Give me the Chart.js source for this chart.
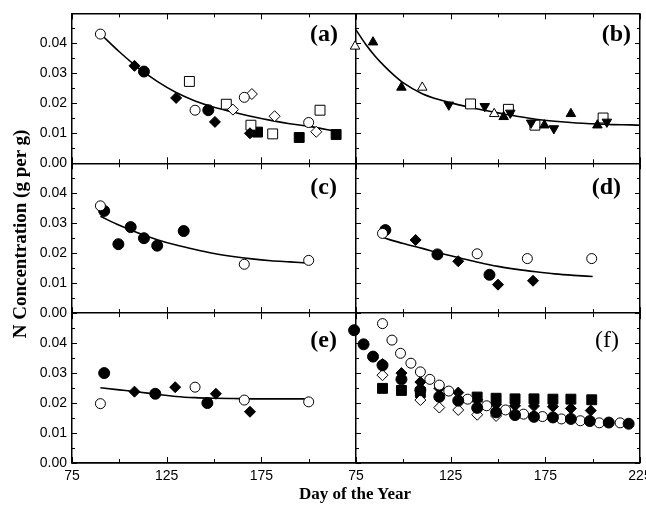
<!DOCTYPE html>
<html>
<head>
<meta charset="utf-8">
<title>N Concentration by Day of the Year</title>
<script src="https://cdn.jsdelivr.net/npm/chart.js@4.4.1/dist/chart.umd.min.js"></script>
<style>
  html, body { margin: 0; padding: 0; overflow: hidden; background: #fff; }
  #wrap { position: relative; width: 646px; height: 510px; overflow: hidden; }
  #chart { position: absolute; left: 0; top: 0; }
  .axis-title {
    position: absolute;
    font-family: "Liberation Serif", "Times New Roman", serif;
    font-weight: bold;
    font-size: 17px;
    line-height: 20px;
    color: #000;
    white-space: nowrap;
    text-align: center;
  }
  #xTitle { left: 255px; width: 200px; top: 484px; }
  #yTitle { left: -120px; width: 280px; top: 224px; font-size: 19px; transform: rotate(-90deg); }
  .panel-label {
    position: absolute;
    font-family: "Liberation Serif", "Times New Roman", serif;
    font-weight: bold;
    font-size: 24px;
    line-height: 24px;
    color: #000;
    white-space: nowrap;
  }
</style>
</head>
<body>
<div id="wrap">
  <canvas id="chart" width="660" height="510"></canvas>
  <div class="axis-title" id="xTitle">Day of the Year</div>
  <div class="axis-title" id="yTitle">N Concentration (g per g)</div>
  <div class="panel-label" style="right:308px; top:21px;">(a)</div>
  <div class="panel-label" style="right:15px; top:21px;">(b)</div>
  <div class="panel-label" style="right:309px; top:174px;">(c)</div>
  <div class="panel-label" style="right:25px; top:174px;">(d)</div>
  <div class="panel-label" style="right:309px; top:327px;">(e)</div>
  <div class="panel-label" style="right:27px; top:327px; font-weight:normal;">(f)</div>
</div>

<script>
// ======================================================
// AXES
// ======================================================

const DAY_MIN = 75;
const DAY_MAX = 225;
const DAY_MAJOR = [75, 125, 175, 225];
const DAY_MINOR = [100, 150, 200];

const N_MIN = 0;
const N_MAX = 0.05;
const N_MAJOR = [0, 0.01, 0.02, 0.03, 0.04, 0.05];
const N_MINOR = [0.005, 0.015, 0.025, 0.035, 0.045];

// ======================================================
// DATA  (day of year, g N per g)
// ======================================================

// (a)
const aOpenCircleDay = [90, 140, 166, 200];
const aOpenCircleN = [0.0431, 0.0177, 0.022, 0.0136];
const aFilledCircleDay = [113, 147];
const aFilledCircleN = [0.0306, 0.0177];
const aFilledDiamondDay = [108, 130, 150.5, 169];
const aFilledDiamondN = [0.0325, 0.0218, 0.0138, 0.01];
const aOpenDiamondDay = [160, 170, 182, 204];
const aOpenDiamondN = [0.0179, 0.0231, 0.0157, 0.0105];
const aOpenSquareDay = [137, 156.5, 169.5, 181, 206];
const aOpenSquareN = [0.0273, 0.0197, 0.0127, 0.0098, 0.0177];
const aFilledSquareDay = [173, 195, 214.5];
const aFilledSquareN = [0.0104, 0.0086, 0.0096];
const aFitDay = [90, 100, 110, 120, 130, 140, 150, 160, 170, 180, 190, 200, 210, 215];
const aFitN = [0.0432, 0.0372, 0.0318, 0.0273, 0.0236, 0.0208, 0.0187, 0.0171, 0.0156, 0.0143, 0.0132, 0.0123, 0.0112, 0.0106];

// (b)
const bOpenTriDay = [74.5, 110, 148];
const bOpenTriN = [0.039, 0.0253, 0.0165];
const bFilledTriDay = [84, 99, 153, 174.5, 188.5, 202.5];
const bFilledTriN = [0.0404, 0.0253, 0.0155, 0.0127, 0.0165, 0.0127];
const bDownTriDay = [124, 143, 156.5, 167.5, 179.5, 207.5];
const bDownTriN = [0.0195, 0.019, 0.0168, 0.0135, 0.0116, 0.0138];
const bOpenSquareDay = [135.5, 155.5, 169.5, 205.5];
const bOpenSquareN = [0.0198, 0.018, 0.0127, 0.0151];
const bFitDay = [75, 80, 85, 90, 95, 100, 110, 120, 130, 140, 150, 160, 170, 180, 190, 200, 210, 220, 225];
const bFitN = [0.0445, 0.0398, 0.0358, 0.0324, 0.0294, 0.0268, 0.0232, 0.021, 0.0194, 0.018, 0.0168, 0.0157, 0.0147, 0.014, 0.0135, 0.0132, 0.0129, 0.0128, 0.0127];

// (c)
const cOpenCircleDay = [90, 166, 200];
const cOpenCircleN = [0.0358, 0.0163, 0.0176];
const cFilledCircleDay = [92, 99.5, 106, 113, 120, 134];
const cFilledCircleN = [0.0341, 0.023, 0.0287, 0.025, 0.0225, 0.0274];
const cFitDay = [90, 100, 110, 120, 130, 140, 150, 160, 170, 180, 190, 200];
const cFitN = [0.0323, 0.0293, 0.0267, 0.0245, 0.0227, 0.0212, 0.0199, 0.0189, 0.0181, 0.0175, 0.0171, 0.0167];

// (d)
const dOpenCircleDay = [89, 139, 165.5, 199.5];
const dOpenCircleN = [0.0266, 0.0198, 0.0182, 0.0182];
const dFilledCircleDay = [90.5, 118, 145.5];
const dFilledCircleN = [0.0277, 0.0196, 0.0128];
const dFilledDiamondDay = [106.5, 129, 150, 168.5];
const dFilledDiamondN = [0.0244, 0.0173, 0.0095, 0.0108];
const dFitDay = [89, 100, 110, 120, 130, 140, 150, 160, 170, 180, 190, 200];
const dFitN = [0.0252, 0.0232, 0.0216, 0.0199, 0.0184, 0.0169, 0.0156, 0.0146, 0.0138, 0.0131, 0.0126, 0.0122];

// (e)
const eOpenCircleDay = [90, 140, 166, 200];
const eOpenCircleN = [0.0198, 0.0253, 0.021, 0.0204];
const eFilledCircleDay = [92, 119, 146.5];
const eFilledCircleN = [0.03, 0.0231, 0.02];
const eFilledDiamondDay = [108, 129.5, 151, 169];
const eFilledDiamondN = [0.0238, 0.0253, 0.0231, 0.0171];
const eFitDay = [90, 100, 110, 120, 130, 140, 150, 160, 175, 200];
const eFitN = [0.0251, 0.0244, 0.0237, 0.0229, 0.0222, 0.0218, 0.0216, 0.0215, 0.0214, 0.0214];

// (f)
const fOpenCircleDay = [89, 94, 98.5, 104, 109, 114, 119, 124, 134, 144, 154, 163.5, 173.5, 183.5, 193.5, 203.5, 214.5];
const fOpenCircleN = [0.0465, 0.041, 0.0366, 0.0333, 0.0304, 0.0279, 0.026, 0.024, 0.0213, 0.0191, 0.0177, 0.0163, 0.0155, 0.0147, 0.0141, 0.0134, 0.0134];
const fFilledCircleDay = [74, 79, 84, 89, 99, 109, 119, 129, 139, 149, 159, 169, 179, 188.5, 198.5, 208.5, 219];
const fFilledCircleN = [0.0443, 0.0396, 0.0355, 0.0326, 0.0279, 0.0243, 0.0221, 0.0208, 0.0184, 0.0169, 0.016, 0.0154, 0.0152, 0.0147, 0.014, 0.0135, 0.0131];
const fFilledDiamondDay = [89, 99, 109, 119, 129, 139, 149, 159, 169, 179, 188.5, 199];
const fFilledDiamondN = [0.033, 0.03, 0.027, 0.0249, 0.0235, 0.0211, 0.0196, 0.0191, 0.019, 0.0188, 0.0182, 0.0175];
const fOpenDiamondDay = [89, 109, 119, 129, 139, 149];
const fOpenDiamondN = [0.0293, 0.021, 0.0185, 0.0177, 0.0161, 0.0157];
const fFilledSquareDay = [89, 99, 109, 139, 149, 159, 169, 179, 188.5, 199.5];
const fFilledSquareN = [0.0249, 0.0242, 0.0235, 0.022, 0.0216, 0.0214, 0.0214, 0.0213, 0.0213, 0.0211];

// ======================================================
// DATASET HELPERS
// ======================================================

const MARKER_STYLES = {
  openCircle:    { pointStyle: "circle",   pointRadius: 5,   fill: "#ffffff" },
  filledCircle:  { pointStyle: "circle",   pointRadius: 5.5, fill: "#000000" },
  openDiamond:   { pointStyle: "rectRot",  pointRadius: 5.5, fill: "#ffffff" },
  filledDiamond: { pointStyle: "rectRot",  pointRadius: 5.5, fill: "#000000" },
  openSquare:    { pointStyle: "rect",     pointRadius: 7,   fill: "#ffffff" },
  filledSquare:  { pointStyle: "rect",     pointRadius: 7,   fill: "#000000" },
  openTri:       { pointStyle: "triangle", pointRadius: 5.5, fill: "#ffffff" },
  filledTri:     { pointStyle: "triangle", pointRadius: 5.5, fill: "#000000" },
  downTri:       { pointStyle: "triangle", pointRadius: 5.5, fill: "#000000", rotation: 180 },
};

function toPoints(days, values) {
  return days.map((d, i) => ({ x: d, y: values[i] }));
}

function markers(days, values, kind, xAxisID, yAxisID) {
  const s = MARKER_STYLES[kind];
  return {
    data: toPoints(days, values),
    xAxisID,
    yAxisID,
    showLine: false,
    pointStyle: s.pointStyle,
    pointRadius: s.pointRadius,
    pointRotation: s.rotation || 0,
    pointBackgroundColor: s.fill,
    pointBorderColor: "#000000",
    pointBorderWidth: 1,
    clip: false,
    order: 0,
  };
}

function fitLine(days, values, xAxisID, yAxisID) {
  return {
    data: toPoints(days, values),
    xAxisID,
    yAxisID,
    showLine: true,
    borderColor: "#000000",
    borderWidth: 1.6,
    pointRadius: 0,
    cubicInterpolationMode: "monotone",
    fill: false,
    order: 1,
  };
}

// ======================================================
// SCALES  (stacked: 3 rows on the left, 2 columns at the bottom)
// ======================================================

const TICK_FONT = { family: "'Liberation Sans', Arial, sans-serif", size: 14 };

function nScale(isTop) {
  return {
    type: "linear",
    position: "left",
    stack: "rows",
    stackWeight: 1,
    min: N_MIN,
    max: N_MAX,
    afterBuildTicks: (s) => { s.ticks = N_MAJOR.map((v) => ({ value: v })); },
    afterFit: (s) => { s.width = 72; },
    ticks: {
      autoSkip: false,
      padding: 5,
      color: "#000",
      font: TICK_FONT,
      callback: (v) => (v > 0.045 ? "" : v.toFixed(2)),
    },
    grid: {
      drawTicks: false,
      lineWidth: 1.5,
      color: (ctx) =>
        ctx.tick && (ctx.tick.value === 0 || (isTop && ctx.tick.value === N_MAX))
          ? "#000"
          : "rgba(0,0,0,0)",
    },
    border: { display: true, color: "#000", width: 1.5 },
  };
}

function dayScale(isLeft) {
  return {
    type: "linear",
    position: "bottom",
    stack: "cols",
    stackWeight: 1,
    min: DAY_MIN,
    max: DAY_MAX,
    afterBuildTicks: (s) => { s.ticks = DAY_MAJOR.map((v) => ({ value: v })); },
    afterFit: (s) => { s.height = 47; },
    ticks: {
      autoSkip: false,
      maxRotation: 0,
      padding: 5,
      color: "#000",
      font: TICK_FONT,
      callback: (v) => (isLeft && v === DAY_MAX ? "" : String(v)),
    },
    grid: {
      drawTicks: false,
      lineWidth: 1.5,
      color: (ctx) => (ctx.tick && ctx.tick.value === DAY_MAX ? "#000" : "rgba(0,0,0,0)"),
    },
    border: { display: true, color: "#000", width: 1.5 },
  };
}

// ======================================================
// INNER TICK MARKS (all panel sides, pointing inwards)
// ======================================================

const PANELS = [
  { x: "xLeft", y: "yTop", right: false },
  { x: "xRight", y: "yTop", right: true },
  { x: "xLeft", y: "yMid", right: false },
  { x: "xRight", y: "yMid", right: true },
  { x: "xLeft", y: "yBot", right: false },
  { x: "xRight", y: "yBot", right: true },
];

const innerTicks = {
  id: "innerTicks",
  beforeDatasetsDraw(chart) {
    const ctx = chart.ctx;
    ctx.save();
    ctx.strokeStyle = "#000";
    ctx.lineWidth = 1;
    ctx.beginPath();

    PANELS.forEach((p) => {
      const xs = chart.scales[p.x];
      const ys = chart.scales[p.y];

      [[DAY_MAJOR, 6], [DAY_MINOR, 4]].forEach(([vals, len]) => {
        vals.forEach((v) => {
          const px = Math.round(xs.getPixelForValue(v)) + 0.5;
          ctx.moveTo(px, ys.top);
          ctx.lineTo(px, ys.top + len);
          ctx.moveTo(px, ys.bottom);
          ctx.lineTo(px, ys.bottom - len);
        });
      });

      [[N_MAJOR, 5], [N_MINOR, 3]].forEach(([vals, len]) => {
        vals.forEach((v) => {
          const py = Math.round(ys.getPixelForValue(v)) + 0.5;
          ctx.moveTo(xs.left, py);
          ctx.lineTo(xs.left + len, py);
          if (p.right) {
            ctx.moveTo(xs.right, py);
            ctx.lineTo(xs.right - len, py);
          }
        });
      });
    });

    ctx.stroke();
    ctx.restore();
  },
};

// ======================================================
// CHART
// ======================================================

const datasets = [
  // (a)
  markers(aOpenCircleDay, aOpenCircleN, "openCircle", "xLeft", "yTop"),
  markers(aFilledCircleDay, aFilledCircleN, "filledCircle", "xLeft", "yTop"),
  markers(aFilledDiamondDay, aFilledDiamondN, "filledDiamond", "xLeft", "yTop"),
  markers(aOpenDiamondDay, aOpenDiamondN, "openDiamond", "xLeft", "yTop"),
  markers(aOpenSquareDay, aOpenSquareN, "openSquare", "xLeft", "yTop"),
  markers(aFilledSquareDay, aFilledSquareN, "filledSquare", "xLeft", "yTop"),
  fitLine(aFitDay, aFitN, "xLeft", "yTop"),
  // (b)
  markers(bOpenTriDay, bOpenTriN, "openTri", "xRight", "yTop"),
  markers(bFilledTriDay, bFilledTriN, "filledTri", "xRight", "yTop"),
  markers(bDownTriDay, bDownTriN, "downTri", "xRight", "yTop"),
  markers(bOpenSquareDay, bOpenSquareN, "openSquare", "xRight", "yTop"),
  fitLine(bFitDay, bFitN, "xRight", "yTop"),
  // (c)
  markers(cOpenCircleDay, cOpenCircleN, "openCircle", "xLeft", "yMid"),
  markers(cFilledCircleDay, cFilledCircleN, "filledCircle", "xLeft", "yMid"),
  fitLine(cFitDay, cFitN, "xLeft", "yMid"),
  // (d)
  markers(dOpenCircleDay, dOpenCircleN, "openCircle", "xRight", "yMid"),
  markers(dFilledCircleDay, dFilledCircleN, "filledCircle", "xRight", "yMid"),
  markers(dFilledDiamondDay, dFilledDiamondN, "filledDiamond", "xRight", "yMid"),
  fitLine(dFitDay, dFitN, "xRight", "yMid"),
  // (e)
  markers(eOpenCircleDay, eOpenCircleN, "openCircle", "xLeft", "yBot"),
  markers(eFilledCircleDay, eFilledCircleN, "filledCircle", "xLeft", "yBot"),
  markers(eFilledDiamondDay, eFilledDiamondN, "filledDiamond", "xLeft", "yBot"),
  fitLine(eFitDay, eFitN, "xLeft", "yBot"),
  // (f)
  markers(fFilledCircleDay, fFilledCircleN, "filledCircle", "xRight", "yBot"),
  markers(fOpenCircleDay, fOpenCircleN, "openCircle", "xRight", "yBot"),
  markers(fFilledDiamondDay, fFilledDiamondN, "filledDiamond", "xRight", "yBot"),
  markers(fOpenDiamondDay, fOpenDiamondN, "openDiamond", "xRight", "yBot"),
  markers(fFilledSquareDay, fFilledSquareN, "filledSquare", "xRight", "yBot"),
];

new Chart(document.getElementById("chart"), {
  type: "scatter",
  data: { datasets },
  options: {
    responsive: false,
    animation: false,
    events: [],
    layout: { padding: { top: 5, right: 20, bottom: 0, left: 0 } },
    plugins: {
      legend: { display: false },
      tooltip: { enabled: false },
    },
    // stacked left axes are placed bottom-up, so the bottom row comes first
    scales: {
      yBot: nScale(false),
      yMid: nScale(false),
      yTop: nScale(true),
      xLeft: dayScale(true),
      xRight: dayScale(false),
    },
  },
  plugins: [innerTicks],
});
</script>
</body>
</html>
